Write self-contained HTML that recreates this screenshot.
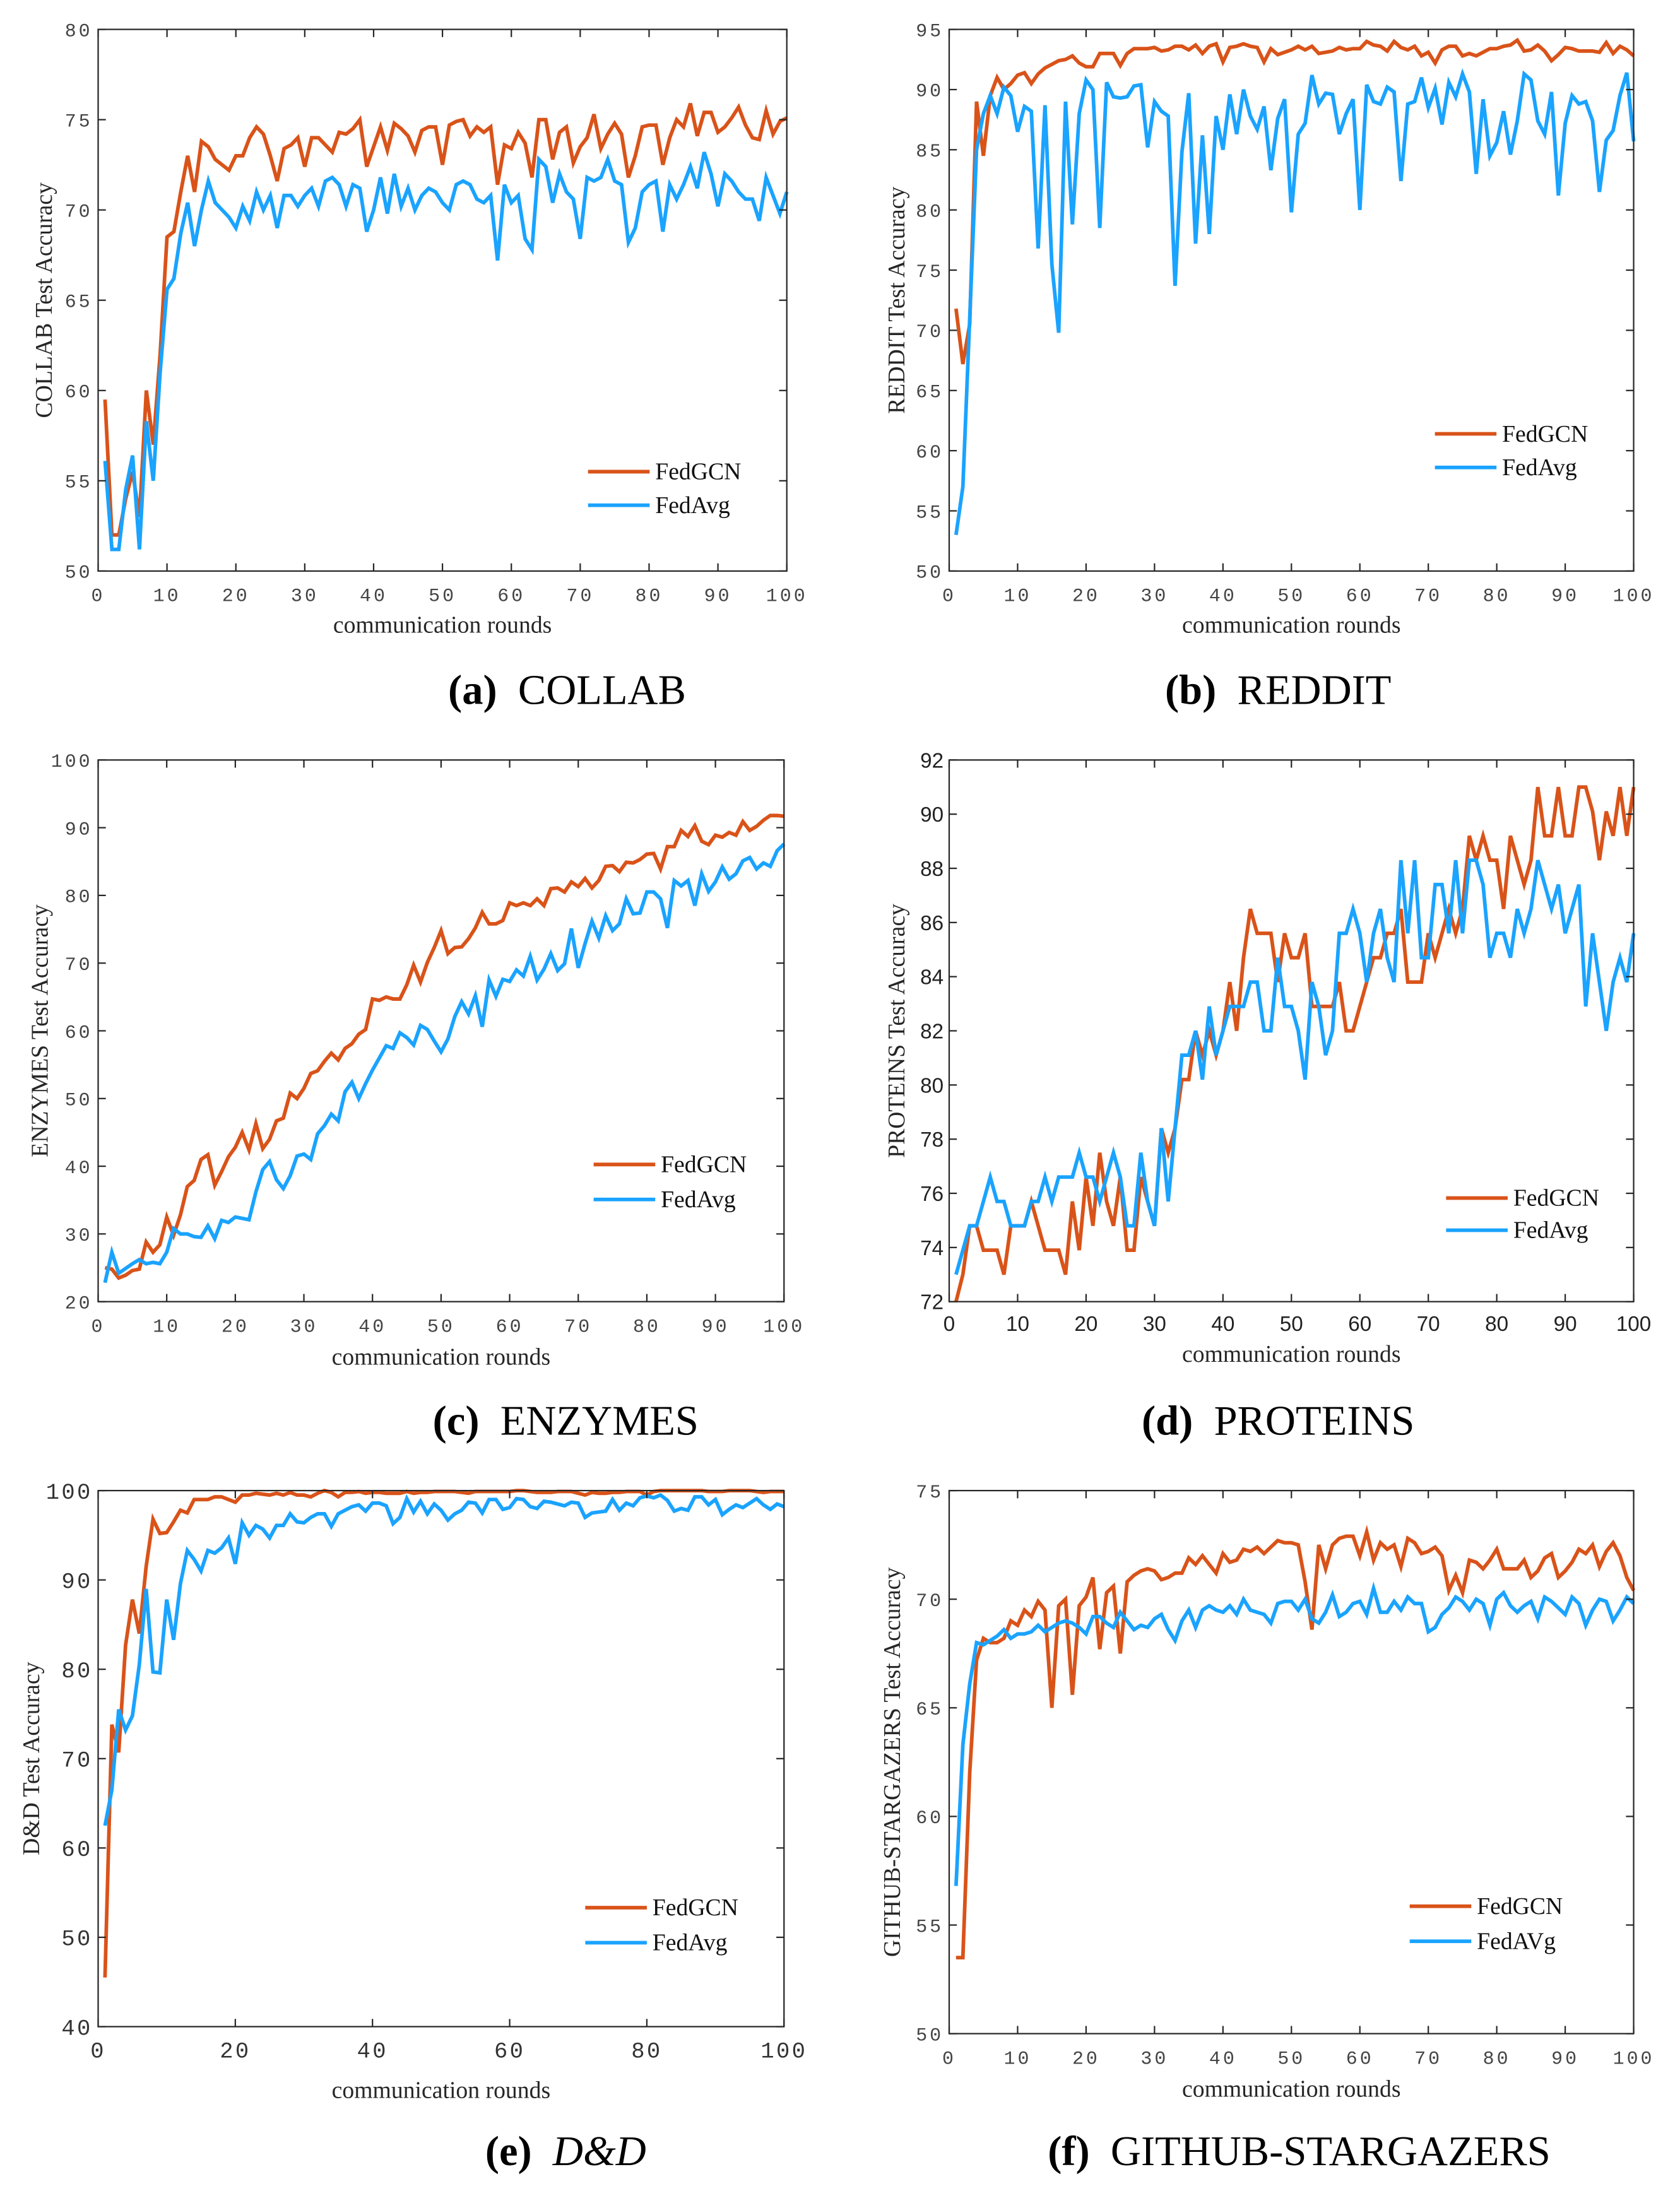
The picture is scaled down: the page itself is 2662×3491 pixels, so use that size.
<!DOCTYPE html>
<html><head><meta charset="utf-8"><style>
html,body{margin:0;padding:0;background:#fff;}
svg{display:block;}
</style></head><body>
<svg id="fig" xmlns="http://www.w3.org/2000/svg" width="2662" height="3491" viewBox="0 0 1200 1574"></svg>
<script>
const roundsCount = 100;
const collabFedGCN=[59.5,52,52,54,55.5,53,60,57,62,68.5,68.8,71,73,71,73.8,73.5,72.8,72.5,72.2,73,73,74,74.6,74.2,73,71.6,73.4,73.6,74,72.4,74,74,73.6,73.2,74.3,74.2,74.5,75,72.4,73.5,74.6,73.3,74.8,74.5,74.1,73.2,74.4,74.6,74.6,72.5,74.7,74.9,75,74.1,74.6,74.3,74.6,71.4,73.6,73.4,74.3,73.7,71.8,75,75,72.8,74.3,74.6,72.6,73.5,74,75.3,73.4,74.2,74.8,74.2,71.8,73,74.6,74.7,74.7,72.5,74,75,74.6,75.9,74.1,75.4,75.4,74.3,74.6,75.1,75.7,74.7,74,73.9,75.5,74.2,74.9,75.1];
const collabFedAvg=[56.1,51.2,51.2,54.5,56.4,51.2,58.3,55,61,65.6,66.2,68.7,70.4,68,70,71.6,70.4,70,69.6,69,70.2,69.4,71,70,70.8,69,70.8,70.8,70.2,70.8,71.2,70.2,71.6,71.8,71.4,70.2,71.4,71.2,68.8,70,71.8,69.8,72,70.2,71.2,70,70.8,71.2,71,70.4,70,71.4,71.6,71.4,70.6,70.4,70.8,67.2,71.4,70.4,70.8,68.4,67.8,72.8,72.4,70.4,72,71,70.6,68.4,71.8,71.6,71.8,72.8,71.6,71.4,68.2,69,71,71.4,71.6,68.8,71.4,70.6,71.4,72.4,71.2,73.2,72,70.2,72,71.6,71,70.6,70.6,69.4,71.8,70.8,69.8,71];
const redditFedGCN=[71.8,67.2,70.5,89,84.5,89.5,91,90,90.5,91.2,91.4,90.5,91.3,91.8,92.1,92.4,92.5,92.8,92.2,91.9,91.9,93,93,93,92,93,93.4,93.4,93.4,93.5,93.2,93.3,93.6,93.6,93.3,93.7,93,93.6,93.8,92.3,93.5,93.6,93.8,93.6,93.5,92.3,93.4,92.9,93.1,93.3,93.6,93.3,93.6,93,93.1,93.2,93.5,93.3,93.4,93.4,94,93.7,93.6,93.2,94,93.5,93.3,93.6,92.8,93.1,92.2,93.3,93.6,93.6,92.8,93,92.8,93.1,93.4,93.4,93.6,93.7,94.1,93.2,93.3,93.7,93.2,92.4,92.9,93.5,93.4,93.2,93.2,93.2,93.1,93.9,93,93.6,93.3,92.8];
const redditFedAvg=[53,57,71,85,88,89.5,88,90.2,89.5,86.5,88.6,88.2,76.8,88.7,75.5,69.8,89,78.8,88,90.8,90,78.5,90.6,89.4,89.3,89.4,90.3,90.4,85.2,89,88.2,87.8,73.7,84.8,89.7,77.2,86.2,78,87.8,85,89.6,86.3,90,87.8,86.7,88.6,83.3,87.6,89.2,79.8,86.3,87.2,91.2,88.8,89.7,89.6,86.3,88,89.2,80,90.4,89,88.8,90.2,89.8,82.4,88.8,89,91,88.5,90.1,87.1,90.6,89.4,91.3,89.8,83,89.2,84.5,85.6,88.2,84.6,87.4,91.3,90.8,87.4,86.3,89.8,81.2,87.2,89.5,88.8,89,87.4,81.5,85.8,86.6,89.5,91.4,85.7];
const enzymesFedGCN=[25,24.8,23.5,23.9,24.6,24.8,28.8,27.3,28.4,32.5,29.8,32.8,37,37.9,41,41.7,37.2,39.2,41.4,42.8,45,42.4,46.3,42.6,44,46.7,47.1,50.8,50,51.5,53.7,54.1,55.5,56.7,55.7,57.4,58.1,59.5,60.2,64.7,64.5,65,64.7,64.7,66.8,69.7,67.2,70.1,72.3,74.8,71.4,72.3,72.4,73.6,75.2,77.5,75.8,75.8,76.3,78.9,78.5,78.9,78.5,79.5,78.5,81,81.1,80.5,82,81.3,82.5,81.1,82.2,84.3,84.4,83.5,84.9,84.8,85.3,86.1,86.2,83.9,87.2,87.2,89.6,88.7,90.3,88,87.5,88.9,88.6,89.3,88.9,90.9,89.6,90.2,91.1,91.8,91.8,91.7];
const enzymesFedAvg=[22.8,27.3,24.2,24.9,25.6,26.2,25.6,25.8,25.6,27.3,30.8,30,30,29.6,29.5,31.2,29.3,32,31.7,32.5,32.3,32.1,36.2,39.5,40.7,38,36.7,38.6,41.5,41.8,41,44.8,46,47.7,46.7,51,52.4,50,52.2,54.2,56,57.8,57.4,59.7,59,57.9,60.8,60.2,58.5,56.9,58.8,62.1,64.3,62.5,65.2,60.6,67.5,65.1,67.6,67.3,69,68.1,71,67.5,69.1,71.4,68.9,69.9,75.1,69.3,72.9,76.2,73.7,77,74.8,75.8,79.5,77.3,77.4,80.5,80.5,79.5,75.2,82.2,81.4,82.2,78.5,83.2,80.6,82,84.2,82.4,83.2,85.1,85.6,83.9,84.8,84.3,86.6,87.6];
const proteinsFedGCN=[72,73,74.8,74.8,73.9,73.9,73.9,73,74.8,74.8,74.8,75.7,74.8,73.9,73.9,73.9,73,75.7,73.9,76.6,74.8,77.5,75.7,74.8,76.6,73.9,73.9,76.6,75.7,74.8,78.4,77.5,78.4,80.2,80.2,82,81.1,82,81.1,82,83.8,82,84.7,86.5,85.6,85.6,85.6,83.8,85.6,84.7,84.7,85.6,82.9,82.9,82.9,82.9,83.8,82,82,82.9,83.8,84.7,84.7,85.6,85.6,86.5,83.8,83.8,83.8,85.6,84.7,85.6,86.5,85.6,86.5,89.2,88.3,89.2,88.3,88.3,86.5,89.2,88.3,87.4,88.3,91,89.2,89.2,91,89.2,89.2,91,91,90.1,88.3,90.1,89.2,91,89.2,91];
const proteinsFedAvg=[73,73.9,74.8,74.8,75.7,76.6,75.7,75.7,74.8,74.8,74.8,75.7,75.7,76.6,75.7,76.6,76.6,76.6,77.5,76.6,76.6,75.7,76.6,77.5,76.6,74.8,74.8,77.5,75.7,74.8,78.4,75.7,78.4,81.1,81.1,82,80.2,82.9,81.1,82,82.9,82.9,82.9,83.8,83.8,82,82,84.7,82.9,82.9,82,80.2,83.8,82.9,81.1,82,85.6,85.6,86.5,85.6,83.8,85.6,86.5,84.7,83.8,88.3,85.6,88.3,84.7,84.7,87.4,87.4,85.6,88.3,85.6,88.3,88.3,87.4,84.7,85.6,85.6,84.7,86.5,85.6,86.5,88.3,87.4,86.5,87.4,85.6,86.5,87.4,82.9,85.6,83.8,82,83.8,84.7,83.8,85.6];
const ddFedGCN=[45.5,73.8,70.7,82.7,87.8,84,91.5,96.8,95.2,95.3,96.5,97.8,97.5,99,99,99,99.3,99.3,99,98.7,99.5,99.5,99.7,99.6,99.5,99.7,99.5,99.8,99.5,99.5,99.3,99.7,100,99.8,99.3,99.8,99.8,99.9,99.7,99.8,99.8,99.7,99.7,99.7,99.9,99.7,99.8,99.8,99.9,99.9,99.9,99.9,99.8,99.7,99.9,99.9,99.9,99.9,99.9,99.9,100,100,99.9,99.8,99.8,99.8,99.9,99.9,99.9,99.7,99.5,99.8,99.7,99.7,99.8,99.8,99.9,99.9,99.9,99.5,99.9,100,100,100,100,100,100,100,99.9,99.9,99.9,100,100,100,100,99.9,99.8,99.9,99.9,99.9];
const ddFedAvg=[62.5,66.5,75.5,73.2,74.8,80.5,89,79.7,79.6,87.8,83.3,89.6,93.3,92.3,91,93.3,93,93.6,94.7,91.8,96.4,95,96.1,95.7,94.7,96.1,96.1,97.4,96.5,96.4,97,97.4,97.4,96,97.4,97.8,98.2,98.4,97.7,98.6,98.6,98.3,96.3,97,99.1,97.6,98.8,97.4,98.5,97.8,96.7,97.4,97.8,98.7,98.6,97.5,99,99,97.9,98.1,99.1,99,98.2,98,98.8,98.7,98.5,98.3,98.7,98.6,97,97.5,97.6,97.7,99,97.8,98.6,98.3,99.2,99.4,99.2,99.5,98.9,97.7,98,97.8,99.3,99.3,98.4,99,97.3,97.9,98.4,98.1,98.6,99.1,98.4,97.9,98.5,98.2];
const githubFedGCN=[53.5,53.5,62,67.2,68.2,68,68,68.2,69,68.8,69.5,69.2,69.9,69.5,65,69.7,70,65.6,69.7,70.1,71,67.7,70.3,70.6,67.5,70.8,71.1,71.3,71.4,71.3,70.9,71,71.2,71.2,71.9,71.6,72,71.6,71.2,72.1,71.7,71.8,72.3,72.2,72.4,72.1,72.4,72.7,72.6,72.6,72.5,70.8,68.6,72.5,71.4,72.5,72.8,72.9,72.9,72,73.1,71.8,72.6,72.3,72.5,71.5,72.8,72.6,72.1,72.2,72.4,72,70.4,71.1,70.3,71.8,71.7,71.4,71.8,72.3,71.4,71.4,71.4,71.8,71,71.3,71.9,72.1,71,71.3,71.7,72.3,72.1,72.5,71.5,72.2,72.6,72,71,70.4];
const githubFedAvg=[56.8,63.3,66.1,68,67.9,68.1,68.3,68.6,68.2,68.4,68.4,68.5,68.8,68.5,68.7,68.9,69,68.9,68.7,68.4,69.2,69.2,68.9,68.7,69.4,69,68.6,68.8,68.7,69.1,69.3,68.6,68.1,69,69.5,68.7,69.5,69.7,69.5,69.4,69.7,69.3,70,69.5,69.4,69.3,68.9,69.8,69.9,69.9,69.5,70,69.1,68.9,69.4,70.2,69.2,69.4,69.8,69.9,69.3,70.5,69.4,69.4,69.9,69.5,70.1,69.8,69.8,68.5,68.7,69.3,69.6,70.1,69.9,69.5,70,69.8,68.8,70,70.3,69.7,69.4,69.7,69.9,69.1,70.1,69.9,69.6,69.3,70.1,69.8,68.8,69.5,70,69.9,69,69.5,70.1,69.8];
const xTicks10=[0,10,20,30,40,50,60,70,80,90,100];
const xTicks20=[0,20,40,60,80,100];
const ticksCollab=[50,55,60,65,70,75,80];
const ticksReddit=[50,55,60,65,70,75,80,85,90,95];
const ticksEnzymes=[20,30,40,50,60,70,80,90,100];
const ticksProteins=[72,74,76,78,80,82,84,86,88,90,92];
const ticksDD=[40,50,60,70,80,90,100];
const ticksGithub=[50,55,60,65,70,75];
const seriesNames=["FedGCN","FedAvg"];

const NS="http://www.w3.org/2000/svg";
const svg=document.getElementById('fig');
function mk(tag,attrs,parent){const e=document.createElementNS(NS,tag);for(const k in attrs)e.setAttribute(k,attrs[k]);(parent||svg).appendChild(e);return e;}

const panels=[
 {id:'collab',L:70,R:562,T:21,B:408,ymin:50,ymax:80,yt:ticksCollab,xt:xTicks10,a:collabFedGCN,b:collabFedAvg,ylab:'COLLAB Test Accuracy',ylx:33,xly:452,tickFont:'mono',cap:'(a)',capName:'COLLAB',capX:405,capY:503,capItal:false,leg:[420,337,361],names:['FedGCN','FedAvg']},
 {id:'reddit',L:678,R:1167,T:21,B:408,ymin:50,ymax:95,yt:ticksReddit,xt:xTicks10,a:redditFedGCN,b:redditFedAvg,ylab:'REDDIT Test Accuracy',ylx:642,xly:452,tickFont:'mono',cap:'(b)',capName:'REDDIT',capX:913,capY:503,capItal:false,leg:[1025,310,334],names:['FedGCN','FedAvg']},
 {id:'enzymes',L:70,R:560,T:543,B:930,ymin:20,ymax:100,yt:ticksEnzymes,xt:xTicks10,a:enzymesFedGCN,b:enzymesFedAvg,ylab:'ENZYMES Test Accuracy',ylx:30,xly:975,tickFont:'mono',cap:'(c)',capName:'ENZYMES',capX:404,capY:1025,capItal:false,leg:[424,832,857],names:['FedGCN','FedAvg']},
 {id:'proteins',L:678,R:1167,T:543,B:930,ymin:72,ymax:92,yt:ticksProteins,xt:xTicks10,a:proteinsFedGCN,b:proteinsFedAvg,ylab:'PROTEINS Test Accuracy',ylx:642,xly:973,tickFont:'sans',cap:'(d)',capName:'PROTEINS',capX:913,capY:1025,capItal:false,leg:[1033,856,879],names:['FedGCN','FedAvg']},
 {id:'dd',L:70,R:560,T:1065,B:1448,ymin:40,ymax:100,yt:ticksDD,xt:xTicks20,a:ddFedGCN,b:ddFedAvg,ylab:'D&D Test Accuracy',ylx:24,xly:1499,tickFont:'monoBig',cap:'(e)',capName:'D&D',capX:404,capY:1547,capItal:true,leg:[418,1363,1388],names:['FedGCN','FedAvg']},
 {id:'github',L:678,R:1167,T:1065,B:1453,ymin:50,ymax:75,yt:ticksGithub,xt:xTicks10,a:githubFedGCN,b:githubFedAvg,ylab:'GITHUB-STARGAZERS Test Accuracy',ylx:639,xly:1498,tickFont:'mono',cap:'(f)',capName:'GITHUB-STARGAZERS',capX:928,capY:1547,capItal:false,leg:[1007,1362,1387],names:['FedGCN','FedAVg']}
];
const ORANGE='#D95319', BLUE='#1AA3FF';

panels.forEach(p=>{
  const g=mk('g',{});
  
  
  const xs=v=>p.L+(v/100)*(p.R-p.L);
  const ys=v=>p.B-(v-p.ymin)/(p.ymax-p.ymin)*(p.B-p.T);
  let ff,fs,fill,ls,xoff;
  if(p.tickFont==='sans'){ff='"Liberation Sans",sans-serif';fs=15;fill='#222';ls=0;xoff=6;}
  else if(p.tickFont==='monoBig'){ff='"Liberation Mono",monospace';fs=16;fill='#333';ls=1.5;xoff=6;}
  else {ff='"Liberation Mono",monospace';fs=13.5;fill='#444';ls=1.8;xoff=8;}
  [[p.a,ORANGE,'fedgcn'],[p.b,BLUE,'fedavg']].forEach(([arr,col,nm])=>{
    let d='';arr.forEach((v,i)=>{d+=(i?'L':'M')+xs(i+1).toFixed(2)+' '+ys(v).toFixed(2)+' ';});
    const path=mk('path',{d:d,fill:'none',stroke:col,'stroke-width':2.6,'stroke-linejoin':'miter','stroke-miterlimit':4},g);
    
    
  });
  const fr=mk('rect',{x:p.L,y:p.T,width:p.R-p.L,height:p.B-p.T,fill:'none',stroke:'#262626','stroke-width':1},g);
  
  
  const tl=5.5;
  p.yt.forEach(v=>{
    const y=ys(v);
    mk('line',{x1:p.L,y1:y,x2:p.L+tl,y2:y,stroke:'#262626','stroke-width':1},g);
    mk('line',{x1:p.R,y1:y,x2:p.R-tl,y2:y,stroke:'#262626','stroke-width':1},g);
    const t=mk('text',{x:p.L-4,y:y+fs*0.36,'text-anchor':'end','font-family':ff,'font-size':fs,fill:fill,'letter-spacing':ls},g);
    t.textContent=v;
    
    
  });
  p.xt.forEach(v=>{
    const x=xs(v);
    mk('line',{x1:x,y1:p.B,x2:x,y2:p.B-tl,stroke:'#262626','stroke-width':1},g);
    mk('line',{x1:x,y1:p.T,x2:x,y2:p.T+tl,stroke:'#262626','stroke-width':1},g);
    const t=mk('text',{x:x,y:p.B+fs+xoff,'text-anchor':'middle','font-family':ff,'font-size':fs,fill:fill,'letter-spacing':ls},g);
    t.textContent=v;
    
    
  });
  const xl=mk('text',{x:(p.L+p.R)/2,y:p.xly,'text-anchor':'middle','font-family':'"Liberation Serif",serif','font-size':17,fill:'#262626'},g);
  xl.textContent='communication rounds';
  
  
  const cy=(p.T+p.B)/2;
  const yl=mk('text',{x:p.ylx,y:cy,'text-anchor':'middle','font-family':'"Liberation Serif",serif','font-size':17,fill:'#262626',transform:'rotate(-90 '+p.ylx+' '+cy+')','dominant-baseline':'middle'},g);
  yl.textContent=p.ylab;
  
  
  const [lx,y1,y2]=p.leg;
  [[y1,ORANGE,p.names[0]],[y2,BLUE,p.names[1]]].forEach(([y,col,nm],k)=>{
    const le=mk('g',{},g);
    
    
    mk('line',{x1:lx,y1:y,x2:lx+44,y2:y,stroke:col,'stroke-width':2.6},le);
    const t=mk('text',{x:lx+48,y:y+5.5,'font-family':'"Liberation Serif",serif','font-size':17,fill:'#111'},le);
    t.textContent=nm;
  });
  const c=mk('text',{x:p.capX,y:p.capY,'text-anchor':'middle','font-family':'"Liberation Serif",serif','font-size':30,fill:'#000'},g);
  
  
  const s1=mk('tspan',{'font-weight':'bold'},c); s1.textContent=p.cap;
  const s2=mk('tspan',{}, c); s2.textContent='\u00a0 ';
  const s3=mk('tspan',p.capItal?{'font-style':'italic'}:{},c); s3.textContent=p.capName;
});
</script>
</body></html>
